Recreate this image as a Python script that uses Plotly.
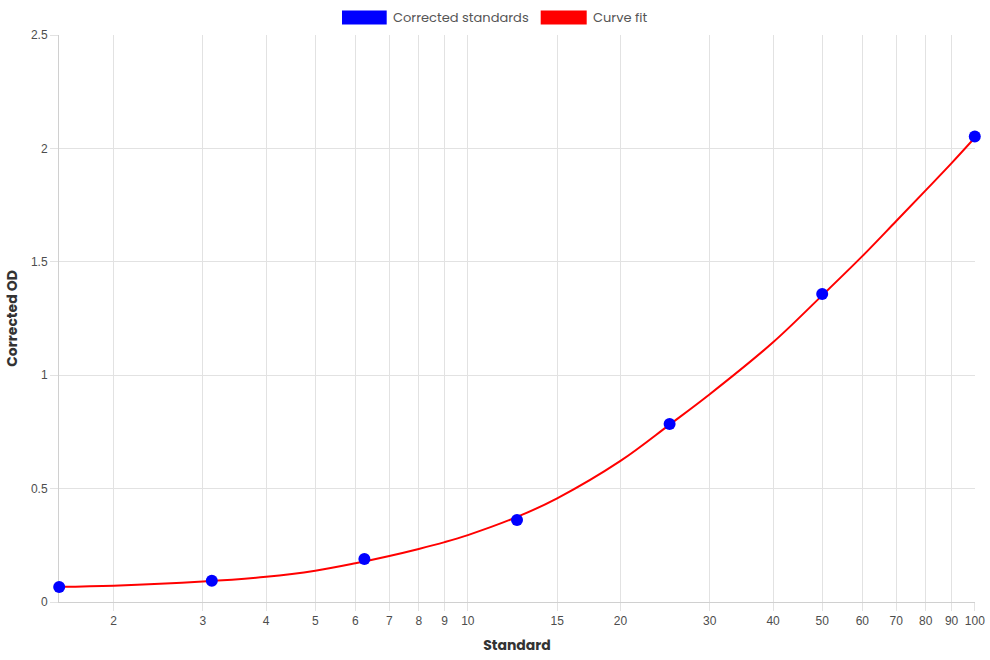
import math
import plotly.graph_objects as go

# ---- data ----
std_x = [1.5625, 3.125, 6.25, 12.5, 25, 50, 100]
std_y = [0.066, 0.094, 0.19, 0.362, 0.785, 1.358, 2.052]

fit_x = [1.5625, 2, 3, 4, 5, 6, 7, 8, 9, 10, 12.5, 15, 20, 25, 30, 40, 50, 60, 70, 80, 90, 100]
fit_y = [0.067, 0.072, 0.090, 0.111, 0.138, 0.171, 0.203, 0.234, 0.264, 0.295, 0.375, 0.457,
         0.622, 0.782, 0.916, 1.145, 1.352, 1.525, 1.680, 1.815, 1.935, 2.047]

x_ticks = [2, 3, 4, 5, 6, 7, 8, 9, 10, 15, 20, 30, 40, 50, 60, 70, 80, 90, 100]
y_ticks = [0, 0.5, 1, 1.5, 2, 2.5]
y_tick_text = ["0", "0.5", "1", "1.5", "2", "2.5"]

legend_labels = ["Corrected standards", "Curve fit"]
legend_colors = ["#0000ff", "#ff0000"]

# ---- layout geometry ----
W, H = 990, 660
L, R, T, B = 59, 15, 35, 58
PW, PH = W - L - R, H - T - B

GRID = "#e2e2e2"
TICK_FONT = dict(family="Liberation Sans, Arial, sans-serif", size=12, color="#4d4d4d")
TITLE_FONT = dict(family="Poppins, Inter, sans-serif", size=14, color="#333333")

fig = go.Figure()
fig.add_trace(go.Scatter(
    x=fit_x, y=fit_y, mode="lines", name=legend_labels[1],
    line=dict(color=legend_colors[1], width=2, shape="spline", smoothing=1.0),
    hoverinfo="skip", showlegend=False, cliponaxis=False,
))
fig.add_trace(go.Scatter(
    x=std_x, y=std_y, mode="markers", name=legend_labels[0],
    marker=dict(color=legend_colors[0], size=12, line=dict(width=0)),
    showlegend=False, cliponaxis=False,
))

def px_to_paper_x(px):
    return (px - L) / PW

def py_to_paper_y(py):
    return (H - B - py) / PH

# custom legend (boxes + labels) at the top centre
boxes = [(342, 386.7), (540.7, 586.7)]
text_x = [393, 592.5]
shapes = []
annotations = []
for (x0, x1), tx, lab, col in zip(boxes, text_x, legend_labels, legend_colors):
    shapes.append(dict(type="rect", xref="paper", yref="paper",
                       x0=px_to_paper_x(x0), x1=px_to_paper_x(x1),
                       y0=py_to_paper_y(24.5), y1=py_to_paper_y(10.5),
                       fillcolor=col, line=dict(width=0)))
    annotations.append(dict(xref="paper", yref="paper", x=px_to_paper_x(tx - 2), y=py_to_paper_y(17.5),
                            text=lab, showarrow=False, xanchor="left", yanchor="middle",
                            font=dict(family="Poppins, Inter, sans-serif", size=13, color="#555555")))

x_lo = math.log10(min(std_x)) - 0.0004
x_hi = math.log10(max(std_x)) + 0.0004

fig.update_layout(
    width=W, height=H,
    margin=dict(l=L, r=R, t=T, b=B, autoexpand=False),
    paper_bgcolor="white", plot_bgcolor="white",
    shapes=shapes, annotations=annotations,
    showlegend=False,
    xaxis=dict(
        type="log", range=[x_lo, x_hi],
        tickvals=x_ticks, ticktext=[str(v) for v in x_ticks],
        showgrid=True, gridcolor=GRID, gridwidth=1,
        ticks="outside", ticklen=8, tickcolor=GRID, tickwidth=1,
        showline=True, linecolor="#d0d0d0", linewidth=1,
        tickfont=TICK_FONT, automargin=False, layer="below traces",
        title=dict(text="<b>Standard</b>", font=TITLE_FONT, standoff=12),
        zeroline=False,
    ),
    yaxis=dict(
        range=[0, 2.5], tickvals=y_ticks, ticktext=y_tick_text,
        showgrid=True, gridcolor=GRID, gridwidth=1,
        ticks="outside", ticklen=8, tickcolor=GRID, tickwidth=1,
        showline=True, linecolor="#d0d0d0", linewidth=1,
        tickfont=TICK_FONT, automargin=False, layer="below traces",
        title=dict(text="<b>Corrected OD</b>", font=TITLE_FONT, standoff=10),
        zeroline=False,
    ),
)

fig.write_html("out.html")
